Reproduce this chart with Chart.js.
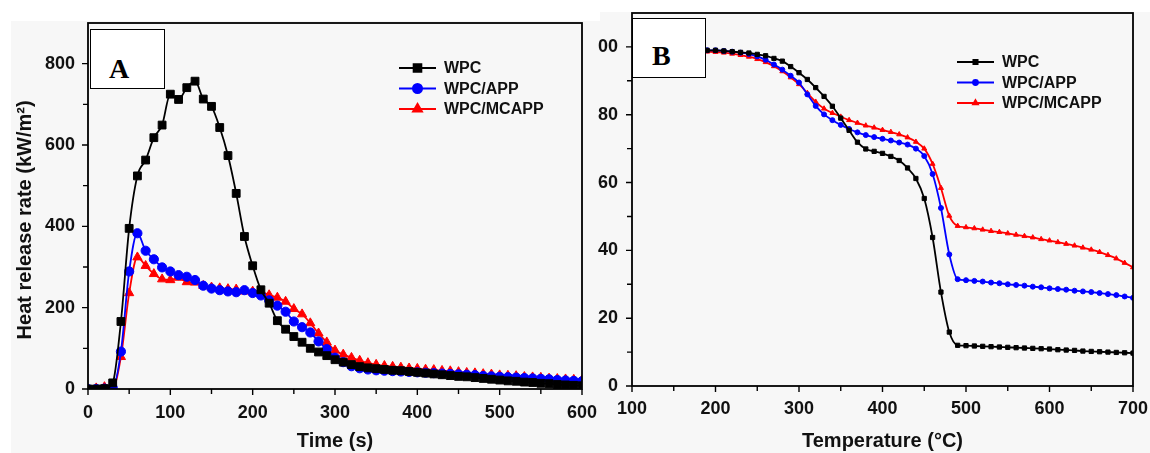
<!DOCTYPE html>
<html>
<head>
<meta charset="utf-8">
<script src="https://cdn.jsdelivr.net/npm/chart.js@4.4.1/dist/chart.umd.min.js"></script>
<style>
  html, body { margin: 0; padding: 0; background: #ffffff; }
  #wrap { position: relative; width: 1150px; height: 453px; overflow: hidden; background: #fff; }
  .bg { position: absolute; background: #f7f7f7; }
  #bgA { left: 11px; top: 21px; width: 589px; height: 432px; }
  #bgB { left: 600px; top: 12px; width: 550px; height: 441px; }
  .panel { position: absolute; top: 0; }
  #panelA { left: 0; width: 598px; height: 453px; }
  #panelB { left: 598px; width: 552px; height: 453px; }
  .tag {
    position: absolute; background: #fff; border: 1.5px solid #000; box-sizing: border-box;
    font-family: "Liberation Serif", serif; font-weight: bold; font-size: 28px;
  }
  .tag span { position: absolute; line-height: 1; transform: translateY(-50%); }
  #tagA { left: 90px; top: 29px; width: 75px; height: 60px; }
  #tagA span { left: 18px; top: 39px; }
  #tagB { left: 632px; top: 18px; width: 74px; height: 60px; }
  #tagB span { left: 19px; top: 37px; }
</style>
</head>
<body>
<div id="wrap">
  <div class="bg" id="bgA"></div>
  <div class="bg" id="bgB"></div>
  <div class="panel" id="panelA"><canvas id="chartA"></canvas></div>
  <div class="panel" id="panelB"><canvas id="chartB"></canvas></div>
  <div class="tag" id="tagA"><span>A</span></div>
  <div class="tag" id="tagB"><span>B</span></div>
</div>
<script>
// ---- Panel A: heat release rate vs time ----
const timeA = [0, 10, 20, 30, 40, 50, 60, 70, 80, 90, 100, 110, 120, 130, 140, 150, 160, 170, 180, 190,
  200, 210, 220, 230, 240, 250, 260, 270, 280, 290, 300, 310, 320, 330, 340, 350, 360, 370, 380, 390,
  400, 410, 420, 430, 440, 450, 460, 470, 480, 490, 500, 510, 520, 530, 540, 550, 560, 570, 580, 590, 600]
const hrrWPC = [0, 0, 1, 15, 166, 395, 524, 563, 618, 649, 725, 712, 741, 757, 713, 695, 643, 574, 481, 375,
  303, 244, 211, 168, 147, 129, 115, 100, 91, 82, 72, 66, 60, 55, 52, 50, 48, 46, 45, 43,
  41, 39, 37, 35, 33, 31, 30, 28, 26, 24, 22, 20, 19, 17, 16, 14, 13, 11, 10, 9, 8]
const hrrAPP = [0, 0, 1, 3, 92, 289, 383, 340, 319, 299, 289, 280, 276, 268, 254, 247, 243, 240, 238, 243,
  236, 230, 218, 205, 190, 166, 152, 139, 117, 98, 77, 66, 56, 51, 48, 46, 45, 44, 43, 42,
  41, 40, 39, 38, 37, 36, 35, 34, 32, 31, 30, 29, 28, 27, 26, 25, 24, 22, 21, 20, 19]
const hrrMCAPP = [0, 2, 5, 3, 79, 236, 324, 303, 283, 270, 268, 274, 263, 262, 254, 250, 248, 246, 245, 240,
  240, 239, 231, 225, 215, 197, 184, 162, 137, 115, 95, 85, 77, 70, 64, 60, 57, 55, 53, 51,
  50, 48, 47, 45, 44, 42, 40, 39, 37, 36, 34, 33, 32, 30, 29, 28, 26, 25, 24, 23, 22]
const xTicksA = [0, 100, 200, 300, 400, 500, 600]
const yTicksA = [0, 200, 400, 600, 800]

// ---- Panel B: TGA mass vs temperature ----
const tempB = [100, 110, 120, 130, 140, 150, 160, 170, 180, 190, 200, 210, 220, 230, 240, 250, 260, 270, 280, 290,
  300, 310, 320, 330, 340, 350, 360, 370, 380, 390, 400, 410, 420, 430, 440, 450, 460, 470, 480, 490,
  500, 510, 520, 530, 540, 550, 560, 570, 580, 590, 600, 610, 620, 630, 640, 650, 660, 670, 680, 690, 700]
const massWPC = [99.8, 99.7, 99.6, 99.5, 99.4, 99.3, 99.2, 99.1, 99.0, 99.0, 99.0, 98.8, 98.6, 98.4, 98.2, 97.8, 97.4, 96.6, 95.8, 94.2,
  92.4, 90.4, 88.0, 85.4, 82.5, 79.0, 75.4, 71.9, 69.9, 69.2, 68.6, 67.7, 66.5, 64.3, 61.2, 55.3, 43.8, 27.7, 15.9, 12.0,
  11.9, 11.8, 11.7, 11.6, 11.5, 11.4, 11.3, 11.2, 11.1, 11.0, 10.9, 10.7, 10.6, 10.5, 10.3, 10.2, 10.1, 10.0, 9.9, 9.8, 9.7]
const massAPP = [99.8, 99.7, 99.6, 99.5, 99.4, 99.3, 99.2, 99.1, 99.0, 99.0, 99.0, 98.8, 98.6, 98.3, 97.9, 97.2, 96.2, 94.8, 93.3, 91.5,
  89.5, 86.0, 82.6, 80.1, 78.4, 77.0, 75.8, 74.8, 74.0, 73.4, 72.9, 72.4, 71.8, 71.2, 70.0, 67.8, 62.5, 52.5, 38.8, 31.5,
  31.2, 31.0, 30.8, 30.5, 30.3, 30.0, 29.8, 29.6, 29.3, 29.1, 28.8, 28.6, 28.4, 28.1, 27.9, 27.7, 27.4, 27.1, 26.8, 26.4, 26.0]
const massMCAPP = [99.6, 99.4, 99.3, 99.2, 99.1, 99.0, 98.9, 98.8, 98.7, 98.6, 98.5, 98.3, 98.0, 97.6, 97.1, 96.4, 95.5, 94.3, 92.8, 91.0,
  89.0, 86.4, 83.8, 81.8, 80.5, 79.4, 78.4, 77.6, 76.8, 76.2, 75.5, 74.9, 74.2, 73.3, 72.0, 70.0, 65.5, 58.4, 50.2, 47.2,
  46.8, 46.5, 46.1, 45.7, 45.4, 45.0, 44.6, 44.2, 43.8, 43.3, 42.9, 42.4, 41.9, 41.4, 40.8, 40.2, 39.5, 38.6, 37.6, 36.3, 35.0]
const xTicksB = [100, 200, 300, 400, 500, 600, 700]
const yTicksB = [0, 20, 40, 60, 80, 100]

const seriesNames = ['WPC', 'WPC/APP', 'WPC/MCAPP']
const seriesColors = ['#000000', '#0000ff', '#ff0000']
const seriesShapes = ['rect', 'circle', 'triangle']

const FONT = '"Liberation Sans", Arial, sans-serif'

function pairs(xs, ys) {
  return xs.map((x, i) => ({ x: x, y: ys[i] }))
}

// Frame plus outward major/minor ticks, Origin style
const frameTicks = {
  id: 'frameTicks',
  afterDatasetsDraw(chart, args, opts) {
    const { ctx, chartArea: a, scales } = chart
    ctx.save()
    ctx.strokeStyle = '#000'
    ctx.lineWidth = 1.8
    ctx.strokeRect(a.left, a.top, a.right - a.left, a.bottom - a.top)
    ctx.lineWidth = 1.4
    const xs = scales.x, ys = scales.y
    const xt = xs.ticks.map(t => t.value)
    const yt = ys.ticks.map(t => t.value)
    ctx.beginPath()
    xt.forEach((v, i) => {
      const px = xs.getPixelForValue(v)
      ctx.moveTo(px, a.bottom); ctx.lineTo(px, a.bottom + 6)
      if (i < xt.length - 1) {
        const m = xs.getPixelForValue((v + xt[i + 1]) / 2)
        ctx.moveTo(m, a.bottom); ctx.lineTo(m, a.bottom + 5)
      }
    })
    yt.forEach((v, i) => {
      const py = ys.getPixelForValue(v)
      ctx.moveTo(a.left, py); ctx.lineTo(a.left - 6, py)
      const next = i < yt.length - 1 ? yt[i + 1] : v + (v - yt[i - 1])
      const mv = (v + next) / 2
      if (mv < ys.max) {
        const m = ys.getPixelForValue(mv)
        ctx.moveTo(a.left, m); ctx.lineTo(a.left - 5, m)
      }
    })
    ctx.stroke()
    ctx.restore()
  },
  afterDraw(chart, args, opts) {
    // legend: short line with a marker, then the label
    const { ctx } = chart
    ctx.save()
    ctx.font = 'bold ' + opts.fontSize + 'px ' + FONT
    ctx.textBaseline = 'middle'
    chart.data.datasets.forEach((ds, i) => {
      const y = opts.y + i * opts.gap
      ctx.strokeStyle = ds.borderColor
      ctx.lineWidth = ds.borderWidth
      ctx.beginPath()
      ctx.moveTo(opts.x, y); ctx.lineTo(opts.x + opts.len, y)
      ctx.stroke()
      Chart.helpers.drawPoint(ctx, {
        pointStyle: ds.pointStyle, radius: ds.pointRadius, borderWidth: 1, rotation: 0
      }, opts.x + opts.len / 2, y)
      ctx.fillStyle = ds.borderColor
      ctx.fill()
      ctx.fillStyle = '#111'
      ctx.fillText(ds.label, opts.x + opts.len + 8, y + 1)
    })
    ctx.restore()
  }
}

function makeDatasets(xs, ysList, radius, width) {
  return ysList.map((ys, i) => ({
    label: seriesNames[i],
    data: pairs(xs, ys),
    borderColor: seriesColors[i],
    backgroundColor: seriesColors[i],
    pointBackgroundColor: seriesColors[i],
    pointBorderColor: seriesColors[i],
    pointStyle: seriesShapes[i],
    pointRadius: seriesShapes[i] === 'rect' ? radius * 1.2 : (seriesShapes[i] === 'triangle' ? radius * 1.15 : radius),
    borderWidth: width,
    pointBorderWidth: 1,
    cubicInterpolationMode: 'monotone',
    fill: false
  }))
}

function scaleOpts(min, max, ticks, title, titlePad, fitSize, tickPad, horizontal) {
  return {
    type: 'linear',
    min: min,
    max: max,
    afterBuildTicks: s => { s.ticks = ticks.map(v => ({ value: v })) },
    afterFit: s => {
      if (horizontal) { s.height = fitSize; s.paddingLeft = 0; s.paddingRight = 0 }
      else { s.width = fitSize; s.paddingTop = 0; s.paddingBottom = 0 }
    },
    grid: { display: false, drawTicks: false },
    border: { display: false },
    ticks: {
      color: '#111',
      padding: tickPad,
      maxRotation: 0,
      font: { family: FONT, size: 18, weight: 'bold' }
    },
    title: {
      display: !!title,
      text: title,
      color: '#111',
      padding: titlePad,
      font: { family: FONT, size: 20, weight: 'bold' }
    }
  }
}

Chart.defaults.animation = false
Chart.defaults.responsive = false

const cA = document.getElementById('chartA')
cA.width = 598; cA.height = 453
new Chart(cA, {
  type: 'line',
  data: { datasets: makeDatasets(timeA, [hrrWPC, hrrAPP, hrrMCAPP], 4.6, 1.8) },
  options: {
    layout: { padding: { left: 0, right: 16, top: 23, bottom: 0 } },
    plugins: {
      legend: { display: false },
      tooltip: { enabled: false },
      frameTicks: { x: 399, y: 68, gap: 20.5, len: 37, fontSize: 16 }
    },
    scales: {
      x: scaleOpts(0, 600, xTicksA, 'Time (s)', { top: 0, bottom: 0 }, 64, 13, true),
      // trailing spaces nudge the rotated title down, as in the figure
      y: scaleOpts(0, 900, yTicksA, 'Heat release rate (kW/m\u00b2)\u00a0\u00a0\u00a0\u00a0\u00a0', { top: 13, bottom: 0 }, 88, 13, false)
    }
  },
  plugins: [frameTicks]
})

const cB = document.getElementById('chartB')
cB.width = 552; cB.height = 453
new Chart(cB, {
  type: 'line',
  data: { datasets: makeDatasets(tempB, [massWPC, massAPP, massMCAPP], 2.5, 1.8) },
  options: {
    layout: { padding: { left: 0, right: 17, top: 13, bottom: 0 } },
    plugins: {
      legend: { display: false },
      tooltip: { enabled: false },
      frameTicks: { x: 359, y: 62, gap: 20.5, len: 37, fontSize: 16 }
    },
    scales: {
      x: scaleOpts(100, 700, xTicksB, 'Temperature (\u00b0C)', { top: 0, bottom: 0 }, 67, 12, true),
      y: scaleOpts(0, 110, yTicksB, '', 0, 34, 14, false)
    }
  },
  plugins: [frameTicks]
})
</script>
</body>
</html>
